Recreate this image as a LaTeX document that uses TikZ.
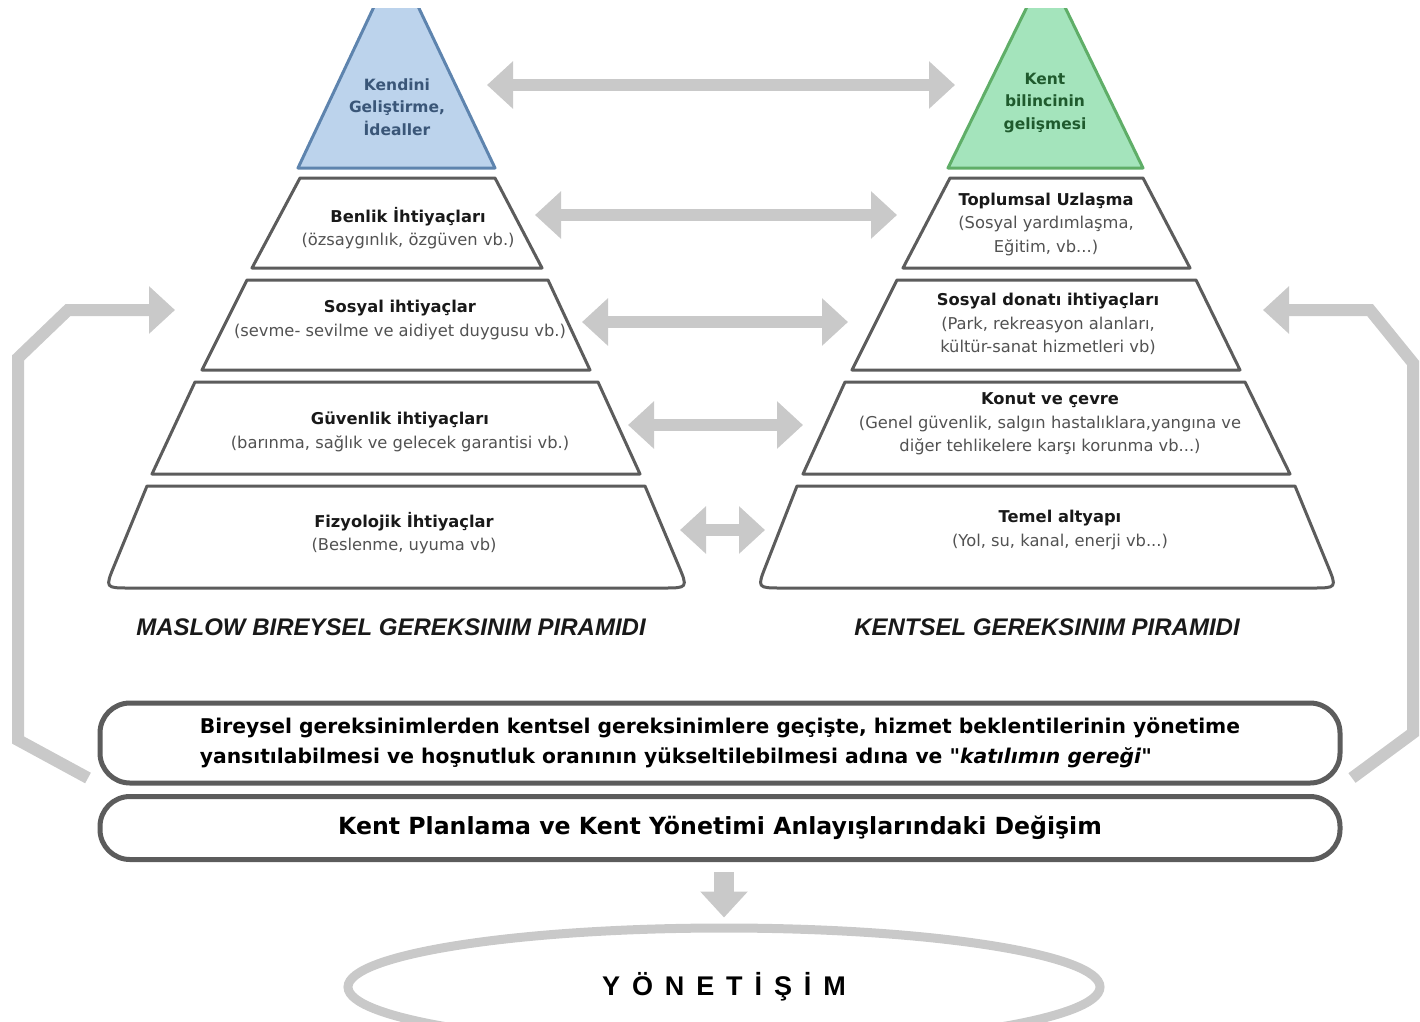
\documentclass[tikz,border=0pt]{standalone}
\usepackage{fontspec}
\setmainfont{Liberation Sans}
\newfontfamily\boxfont{DejaVu Sans}
\newfontfamily\spacedfont[LetterSpace=44]{Liberation Sans}
\usetikzlibrary{arrows.meta,shapes.geometric}

\definecolor{selfblue}{HTML}{BCD3EC}
\definecolor{selfedge}{HTML}{5E84AE}
\definecolor{selftext}{HTML}{3A5678}
\definecolor{citygreen}{HTML}{A4E4BC}
\definecolor{cityedge}{HTML}{5FAE68}
\definecolor{citytext}{HTML}{1F5A2D}
\definecolor{linkgray}{HTML}{C9C9C9}
\definecolor{edgegray}{HTML}{5C5C5C}

\newcommand{\needhead}[1]{\textbf{\color{black!90}#1}}

\begin{document}
\begin{tikzpicture}[
  x=1pt, y=-1pt,
  >={Triangle[length=26pt,width=46pt]},
  layer/.style   ={draw=edgegray, line width=3pt, fill=white, line join=round},
  selfapex/.style={draw=selfedge, line width=3pt, fill=selfblue, line join=round},
  cityapex/.style={draw=cityedge, line width=3pt, fill=citygreen, line join=round},
  apexlbl/.style ={font=\boxfont\fontsize{15.5}{22.5}\selectfont\bfseries, align=center, inner sep=0pt},
  needlbl/.style ={font=\boxfont\fontsize{16.3}{23.5}\selectfont, text=black!68, align=center, inner sep=0pt},
  pyrcap/.style  ={font=\fontsize{24}{26}\selectfont\bfseries\itshape, text=black!90},
  frame/.style   ={draw=edgegray, line width=5pt, rounded corners=30pt, minimum width=1240pt, fill=white},
  link/.style    ={<->, draw=linkgray, line width=12pt},
  backflow/.style={->, draw=linkgray, line width=12pt, line join=miter},
]
\useasboundingbox (0,0) rectangle (1420,1021);
\clip (0,8) rectangle (1420,1021);
% maslow pyramid
\draw[selfapex] (396,-40) -- (298,168) -- (495,168) -- cycle;
\draw[layer] (300,178) -- (252,268) -- (542,268) -- (495,178) -- cycle;
\draw[layer] (247,280) -- (202,370) -- (590,370) -- (548,280) -- cycle;
\draw[layer] (195,382) -- (152,474) -- (640,474) -- (598,382) -- cycle;
\draw[layer] (147,486) -- (114.5,565) .. controls (105,588) .. (130,588) -- (663,588) .. controls (688,588) .. (678.3,565) -- (645,486) -- cycle;
% city pyramid
\draw[cityapex] (1046,-32) -- (948,168) -- (1143,168) -- cycle;
\draw[layer] (950,178) -- (903,268) -- (1190,268) -- (1143,178) -- cycle;
\draw[layer] (897,280) -- (852,370) -- (1240,370) -- (1196,280) -- cycle;
\draw[layer] (845,382) -- (803,474) -- (1290,474) -- (1245,382) -- cycle;
\draw[layer] (797,486) -- (766.1,565) .. controls (757,588) .. (782,588) -- (1312,588) .. controls (1337,588) .. (1327.5,565) -- (1295,486) -- cycle;
% labels
\node[apexlbl, text=selftext] (selfreal) at (397,107) {Kendini\\Geliştirme,\\İdealler};
\node[apexlbl, text=citytext] (awareness) at (1045,103) {Kent\\bilincinin\\gelişmesi};
\node[needlbl] (esteem)    at (408,228)  {\needhead{Benlik İhtiyaçları}\\(özsaygınlık, özgüven vb.)};
\node[needlbl] (belonging) at (400,320)  {\needhead{Sosyal ihtiyaçlar}\\(sevme- sevilme ve aidiyet duygusu vb.)};
\node[needlbl] (safety)    at (400,432)  {\needhead{Güvenlik ihtiyaçları}\\(barınma, sağlık ve gelecek garantisi vb.)};
\node[needlbl] (physio)    at (404,533)  {\needhead{Fizyolojik İhtiyaçlar}\\(Beslenme, uyuma vb)};
\node[needlbl] (consensus) at (1046,224) {\needhead{Toplumsal Uzlaşma}\\(Sosyal yardımlaşma,\\Eğitim, vb...)};
\node[needlbl] (amenity)   at (1048,324) {\needhead{Sosyal donatı ihtiyaçları}\\(Park, rekreasyon alanları,\\kültür-sanat hizmetleri vb)};
\node[needlbl] (housing)   at (1050,424) {\needhead{Konut ve çevre}\\(Genel güvenlik, salgın hastalıklara,yangına ve\\diğer tehlikelere karşı korunma vb...)};
\node[needlbl] (infra)     at (1060,530) {\needhead{Temel altyapı}\\(Yol, su, kanal, enerji vb...)};
\node[pyrcap] (maslowcap) at (391,627)  {MASLOW BIREYSEL GEREKSINIM PIRAMIDI};
\node[pyrcap] (citycap)   at (1047,627) {KENTSEL GEREKSINIM PIRAMIDI};
% links between levels
\coordinate (selfrealE) at (487,85);  \coordinate (awarenessW) at (955,85);
\coordinate (esteemE)   at (535,215); \coordinate (consensusW) at (897,215);
\coordinate (belongE)   at (582,322); \coordinate (amenityW)   at (848,322);
\coordinate (safetyE)   at (628,425); \coordinate (housingW)   at (803,425);
\coordinate (physioE)   at (680,530); \coordinate (infraW)     at (765,530);
\draw[link] (selfrealE) -- (awarenessW);
\draw[link] (esteemE) -- (consensusW);
\draw[link] (belongE) -- (amenityW);
\draw[link] (safetyE) -- (housingW);
\draw[link] (physioE) -- (infraW);
% feedback arrows
\coordinate (flowLs) at (88,778);   \coordinate (flowLe) at (175,310);
\coordinate (flowRs) at (1352,778); \coordinate (flowRe) at (1263,310);
\draw[backflow] (flowLs) -- (18,740) -- (18,358) -- (68,310) -- (flowLe);
\draw[backflow] (flowRs) -- (1413,733) -- (1413,363) -- (1370,310) -- (flowRe);
% bottom boxes
\node[frame, minimum height=80pt, align=left, font=\boxfont\bfseries\fontsize{20.3}{30}\selectfont] (shift) at (720,743)
  {Bireysel gereksinimlerden kentsel gereksinimlere geçişte, hizmet beklentilerinin yönetime\\yansıtılabilmesi ve hoşnutluk oranının yükseltilebilmesi adına ve "\textit{katılımın gereği}"};
\node[frame, minimum height=63pt, font=\boxfont\bfseries\fontsize{23.6}{26}\selectfont] (plan) at (720,828)
  {Kent Planlama ve Kent Yönetimi Anlayışlarındaki Değişim};
\node[ellipse, draw=linkgray, line width=9pt, minimum width=752pt, minimum height=118pt,
      font=\spacedfont\bfseries\fontsize{27}{30}\selectfont] (gov) at (724,987) {YÖNETİŞİM};
\draw[->, draw=linkgray, line width=20pt, shorten <=10pt, shorten >=6pt] (plan.south -| gov.north) -- (gov.north);
\end{tikzpicture}
\end{document}
